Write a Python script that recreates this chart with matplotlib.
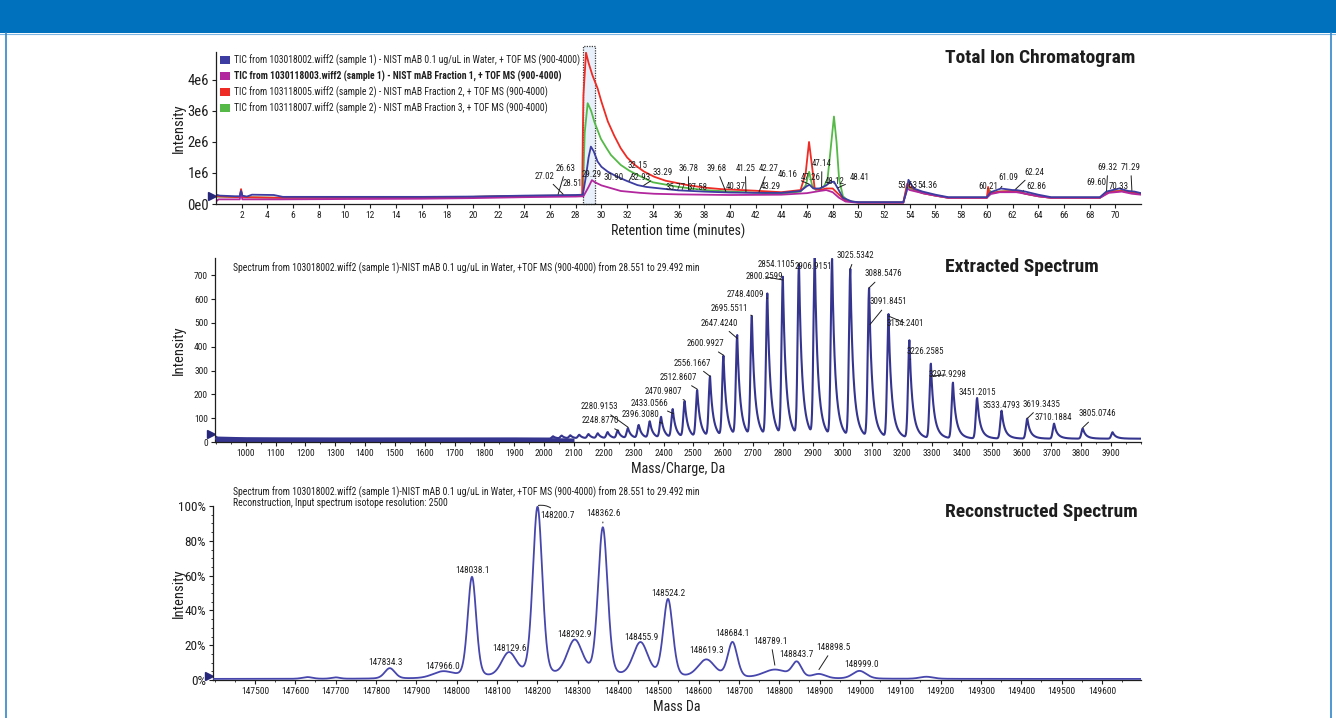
import numpy as np
import matplotlib
matplotlib.use("Agg")
import matplotlib.pyplot as plt
from matplotlib.patches import Rectangle, Patch
from matplotlib.lines import Line2D
from matplotlib.ticker import FixedLocator, MultipleLocator

NARROW = ["Roboto Condensed", "Liberation Sans", "DejaVu Sans"]
plt.rcParams["font.family"] = NARROW

# ---------------- Total ion chromatograms (time in min, intensity in 1e6 counts) ----------------
tic_names = [
    "TIC from 103018002.wiff2 (sample 1) - NIST mAB 0.1 ug/uL in Water, + TOF MS (900-4000)",
    "TIC from 1030118003.wiff2 (sample 1) - NIST mAB Fraction 1, + TOF MS (900-4000)",
    "TIC from 103118005.wiff2 (sample 2) - NIST mAB Fraction 2, + TOF MS (900-4000)",
    "TIC from 103118007.wiff2 (sample 2) - NIST mAB Fraction 3, + TOF MS (900-4000)",
]

blue_t = [0.0, 0.3, 1.5, 1.85, 1.95, 2.05, 2.4, 2.8, 4.5, 5.2, 10.0, 16.0, 20.0, 24.0, 26.0, 28.0,
          28.55, 28.8, 29.0, 29.18, 29.4, 29.7, 30.0, 30.5, 31.0, 31.5, 32.0, 32.8, 33.5, 34.6, 36.0,
          38.0, 40.0, 42.0, 44.0, 45.5, 46.0, 46.2, 46.5, 47.0, 47.5, 47.8, 48.1, 48.4, 48.8, 49.5,
          50.0, 53.5, 53.75, 53.9, 54.3, 55.0, 56.0, 57.0, 60.0, 60.3, 61.1, 62.0, 62.3, 63.0, 64.0,
          65.0, 68.8, 69.3, 70.3, 71.0, 71.5, 72.0]
blue_e6 = [0.30, 0.27, 0.25, 0.25, 0.42, 0.27, 0.24, 0.30, 0.29, 0.23, 0.23, 0.23, 0.24, 0.27, 0.28,
           0.29, 0.30, 0.90, 1.50, 1.85, 1.70, 1.37, 1.20, 1.04, 0.93, 0.83, 0.74, 0.61, 0.55, 0.50,
           0.44, 0.40, 0.37, 0.36, 0.36, 0.42, 0.58, 0.62, 0.50, 0.50, 0.60, 0.70, 0.72, 0.50, 0.20,
           0.08, 0.06, 0.06, 0.40, 0.78, 0.50, 0.40, 0.30, 0.22, 0.22, 0.38, 0.50, 0.45, 0.45, 0.40,
           0.30, 0.22, 0.22, 0.40, 0.50, 0.42, 0.40, 0.35]

magenta_t = [0.0, 0.2, 1.85, 1.95, 2.05, 5.0, 10.0, 16.0, 20.0, 24.0, 28.0, 28.6, 29.0, 29.26, 29.5,
             30.0, 31.5, 33.0, 34.1, 36.0, 40.0, 44.0, 46.0, 47.0, 47.5, 48.0, 48.5, 49.0, 50.0, 53.5,
             53.8, 54.0, 55.0, 56.0, 57.0, 60.0, 60.3, 61.0, 62.3, 63.0, 64.0, 65.0, 68.8, 69.5, 70.5,
             71.3, 72.0]
magenta_e6 = [0.08, 0.15, 0.15, 0.40, 0.15, 0.15, 0.16, 0.17, 0.19, 0.22, 0.24, 0.25, 0.55, 0.77,
              0.70, 0.60, 0.42, 0.36, 0.33, 0.31, 0.29, 0.30, 0.35, 0.42, 0.45, 0.38, 0.20, 0.08,
              0.04, 0.04, 0.50, 0.45, 0.35, 0.27, 0.20, 0.20, 0.32, 0.38, 0.38, 0.33, 0.25, 0.20,
              0.20, 0.36, 0.40, 0.33, 0.30]

red_t = [0.0, 1.85, 1.95, 2.05, 5.0, 10.0, 16.0, 20.0, 24.0, 28.0, 28.5, 28.55, 28.6, 28.8, 29.0,
         29.3, 29.7, 30.0, 30.5, 31.0, 31.5, 32.0, 32.6, 33.3, 34.1, 35.0, 36.7, 38.0, 39.3, 41.9,
         44.0, 45.5, 45.9, 46.16, 46.4, 46.6, 47.0, 47.5, 48.0, 48.5, 49.0, 50.0, 53.5, 53.8, 54.0,
         55.0, 56.0, 57.0, 60.0, 60.1, 60.2, 60.3, 61.0, 62.3, 63.0, 64.0, 65.0, 68.8, 69.5, 70.5, 72.0]
red_e6 = [0.25, 0.22, 0.48, 0.22, 0.20, 0.20, 0.22, 0.23, 0.26, 0.27, 0.30, 2.15, 3.50, 4.88, 4.55,
          4.15, 3.73, 3.30, 2.66, 2.20, 1.80, 1.50, 1.26, 1.05, 0.88, 0.75, 0.61, 0.53, 0.48, 0.43,
          0.38, 0.45, 1.00, 2.00, 1.20, 0.50, 0.45, 0.50, 0.50, 0.30, 0.10, 0.05, 0.05, 0.65, 0.55,
          0.35, 0.27, 0.20, 0.20, 0.55, 0.30, 0.35, 0.40, 0.42, 0.33, 0.25, 0.20, 0.20, 0.40, 0.42, 0.33]

green_t = [0.0, 1.85, 1.95, 2.05, 5.0, 10.0, 16.0, 20.0, 24.0, 28.0, 28.55, 28.7, 28.93, 29.2, 29.45,
           29.96, 30.4, 30.74, 31.5, 32.15, 32.8, 34.0, 36.0, 38.0, 40.0, 44.0, 45.5, 45.9, 46.17,
           46.4, 46.7, 47.0, 47.3, 47.6, 47.8, 48.1, 48.3, 48.5, 48.8, 49.2, 50.0, 53.5, 53.8, 54.0,
           55.0, 56.0, 57.0, 60.0, 60.2, 60.4, 61.0, 62.3, 63.0, 64.0, 65.0, 68.8, 69.5, 70.5, 72.0]
green_e6 = [0.24, 0.22, 0.45, 0.22, 0.20, 0.20, 0.22, 0.23, 0.26, 0.27, 0.30, 2.30, 3.25, 3.00, 2.65,
            2.10, 1.80, 1.58, 1.26, 1.08, 0.94, 0.70, 0.55, 0.45, 0.40, 0.33, 0.40, 0.60, 1.04, 0.60,
            0.45, 0.50, 0.55, 0.80, 1.60, 2.82, 2.00, 0.80, 0.25, 0.10, 0.05, 0.05, 0.60, 0.50, 0.35,
            0.27, 0.20, 0.20, 0.45, 0.35, 0.40, 0.42, 0.33, 0.25, 0.20, 0.20, 0.40, 0.42, 0.33]

tic_rt_labels = [27.02, 26.63, 28.51, 29.29, 30.90, 32.15, 32.93, 33.29, 35.77, 36.78, 37.58, 39.68,
                 40.37, 41.25, 42.27, 43.29, 46.16, 47.26, 47.14, 48.12, 48.41, 53.63, 54.36, 60.21,
                 61.09, 62.24, 62.86, 69.60, 69.32, 70.33, 71.29]
xic_window = (28.551, 29.492)

# ---------------- Extracted spectrum (m/z, counts) ----------------
ms_peak_mz = [2030, 2059, 2088, 2118, 2149, 2180, 2213, 2247, 2281, 2317, 2354, 2392, 2431, 2471,
              2513, 2556, 2601, 2647, 2696, 2748, 2800, 2854, 2907, 2965, 3026, 3089, 3154, 3224,
              3296, 3370, 3451, 3533, 3619, 3709, 3805, 3905]
ms_peak_int = [10, 12, 13, 15, 18, 21, 26, 33, 42, 55, 70, 88, 120, 152, 198, 255, 340, 425, 505,
               600, 668, 722, 752, 745, 705, 625, 518, 410, 313, 234, 170, 117, 84, 63, 43, 27]
ms_baseline = 14
noise_mz = [897, 905, 1000, 1100, 1300, 1500, 1700, 1900, 2000, 2100]
noise_top = [30, 25, 22, 21, 20, 20, 20, 20, 19, 17]
ms_mz_labels = [2280.9153, 2248.8770, 2396.3080, 2433.0566, 2470.9807, 2512.8607, 2556.1667,
                2600.9927, 2647.4240, 2695.5511, 2748.4009, 2800.2599, 2854.1105, 2906.9151,
                3025.5342, 3088.5476, 3091.8451, 3154.2401, 3226.2585, 3297.9298, 3451.2015,
                3533.4793, 3619.3435, 3710.1884, 3805.0746]

# ---------------- Reconstructed (deconvoluted) spectrum (Da, % of base peak) ----------------
rec_mass = [147630, 147700, 147834.3, 147966.0, 148038.1, 148129.6, 148200.7, 148292.9, 148362.6,
            148455.9, 148524.2, 148619.3, 148684.1, 148789.1, 148843.7, 148898.5, 148999.0, 149165]
rec_pct = [1.0, 0.8, 6.0, 3.8, 58.0, 14.0, 98.0, 21.0, 86.0, 20.0, 45.0, 10.5, 20.5, 5.0, 8.8, 2.5,
           4.5, 1.2]
rec_fwhm = [30, 25, 30, 60, 25, 44, 28, 46, 28, 44, 28, 50, 28, 70, 28, 40, 40, 40]
rec_baseline = 0.6
rec_labels = [147834.3, 147966.0, 148038.1, 148129.6, 148200.7, 148292.9, 148362.6, 148455.9,
              148524.2, 148619.3, 148684.1, 148789.1, 148843.7, 148898.5, 148999.0]

# ---------------- layout: label text anchors (data coordinates) ----------------
tic_label_xy = [(25.6, 0.90), (27.24, 1.16), (27.75, 0.65), (29.26, 0.94), (30.93, 0.87),
                (32.8, 1.23), (33.03, 0.87), (34.79, 1.00), (35.8, 0.52), (36.77, 1.16),
                (37.47, 0.52), (38.95, 1.16), (40.47, 0.55), (41.2, 1.16), (43.0, 1.16),
                (43.15, 0.55), (44.47, 0.94), (46.3, 0.84), (47.16, 1.32), (48.13, 0.71),
                (50.08, 0.84), (53.81, 0.61), (55.37, 0.61), (60.1, 0.55), (61.7, 0.84),
                (63.66, 1.03), (63.85, 0.58), (68.52, 0.68), (69.42, 1.19), (70.3, 0.58),
                (71.2, 1.19)]
tic_leader = [1, 1, 0, 0, 0, 1, 0, 1, 0, 1, 0, 1, 0, 1, 1, 0, 1, 0, 1, 0, 1, 0, 1, 0, 1, 1, 1, 0,
              1, 0, 1]
ms_label_xy = [(2185, 148), (2188, 89), (2322, 116), (2353, 163), (2400, 211), (2450, 270),
               (2498, 331), (2542, 412), (2588, 499), (2620, 562), (2674, 618), (2737, 695),
               (2778, 744), (2903, 739), (3042, 782), (3137, 706), (3154, 589), (3210, 499),
               (3277, 379), (3350, 282), (3450, 207), (3534, 155), (3668, 158), (3707, 102),
               (3853, 118)]
ms_leader = [1, 1, 1, 1, 1, 1, 1, 1, 1, 1, 1, 1, 1, 0, 1, 1, 1, 1, 1, 1, 0, 0, 1, 0, 1]
rec_label_xy = [(147824, 10.0), (147965, 8.0), (148040, 63.2), (148130, 18.2), (148250, 94.3),
                (148293, 26.4), (148364, 95.8), (148457, 24.3), (148525, 49.8), (148620, 16.7),
                (148683, 26.8), (148779, 22.4), (148843, 14.9), (148934, 18.8), (149003, 9.0)]
rec_leader = [0, 0, 0, 0, 2, 0, 1, 0, 0, 0, 0, 1, 0, 1, 0]

# ---------------- figure ----------------
W, H = 1336, 718
fig = plt.figure(figsize=(W / 100, H / 100), dpi=100)


def fx(px):
    return px / W


def fy(py):
    return 1 - py / H


def axes_box(left, right, top, bottom):
    return [fx(left), fy(bottom), (right - left) / W, (bottom - top) / H]


fig.patches.append(Rectangle((0, fy(33)), 1, 33 / H, transform=fig.transFigure,
                             facecolor="#0071bc", edgecolor="none", zorder=0))
fig.add_artist(Line2D([0, 1], [fy(33.5), fy(33.5)], color="#7fb6e2", lw=0.8))
fig.add_artist(Line2D([fx(5.5), fx(5.5)], [0, fy(33)], color="#2f86cc", lw=1.2))
fig.add_artist(Line2D([fx(1331), fx(1331)], [0, fy(33)], color="#2f86cc", lw=1.2))

INK = "#1e1e1e"
TRACE = "#35358f"
NUM = 6.4      # peak-label size
TICK = 6.8     # small tick-label size
TITLE = 14
NOTE = 6.9     # legend / header-note size


def style_axes(ax, left_px, right_px):
    for s in ("top", "right"):
        ax.spines[s].set_visible(False)
    for s in ("left", "bottom"):
        ax.spines[s].set_color(INK)
        ax.spines[s].set_linewidth(0.9)
    ax.patch.set_alpha(0)
    ax.tick_params(which="major", direction="out", length=3, width=0.8, colors=INK, pad=2)
    ax.tick_params(which="minor", direction="out", length=1.6, width=0.6, colors=INK)
    ax.yaxis.set_label_coords((186 - left_px) / (right_px - left_px), 0.5)


def baseline_arrow(ax, y):
    ax.plot([-0.004], [y], marker=">", ms=5.5, color="#26267a",
            transform=ax.get_yaxis_transform(), clip_on=False)


def leader(ax, text, xy, xytext, draw, size, rad=0.0):
    kw = dict(fontsize=size, color=INK, ha="center", va="center", annotation_clip=False)
    if draw:
        kw["arrowprops"] = dict(arrowstyle="-", color=INK, lw=0.7, shrinkA=1, shrinkB=0,
                                connectionstyle=f"arc3,rad={rad}")
    ax.annotate(text, xy=xy, xytext=xytext, textcoords="data", **kw)


# ---------- panel 1: total ion chromatogram ----------
ax1 = fig.add_axes(axes_box(216, 1141, 52, 204))
style_axes(ax1, 216, 1141)
ax1.set_xlim(0, 72)
ax1.set_ylim(0, 4.9e6)
ax1.add_patch(Rectangle((xic_window[0], 0), xic_window[1] - xic_window[0], 5.1e6,
                        facecolor="#e8f1fb", edgecolor="#3a3a3a", lw=0.9,
                        linestyle=(0, (1, 1)), clip_on=False, zorder=0.5))

series = [(green_t, green_e6, "#55b947"), (red_t, red_e6, "#ee2b24"),
          (magenta_t, magenta_e6, "#b3279e"), (blue_t, blue_e6, "#3c3ca2")]
for t, v, c in series:
    ax1.plot(t, np.array(v) * 1e6, color=c, lw=1.3, zorder=2)

blue_arr = np.array(blue_e6) * 1e6
for rt, (tx, ty), d in zip(tic_rt_labels, tic_label_xy, tic_leader):
    y_pt = np.interp(rt, blue_t, blue_arr) + 0.03e6
    leader(ax1, f"{rt:.2f}", (rt, y_pt), (tx, ty * 1e6), d, NUM)

ax1.xaxis.set_major_locator(FixedLocator(np.arange(2, 72, 2)))
ax1.set_xticklabels([f"{v:d}" for v in range(2, 72, 2)], fontsize=TICK)
ax1.yaxis.set_major_locator(FixedLocator([0, 1e6, 2e6, 3e6, 4e6]))
ax1.set_yticklabels(["0e0", "1e6", "2e6", "3e6", "4e6"], fontsize=10.5)
ax1.set_xlabel("Retention time (minutes)", fontsize=10, labelpad=3, color=INK)
ax1.set_ylabel("Intensity", fontsize=10.5, color=INK)
baseline_arrow(ax1, 0.26e6)

handles = [Patch(facecolor=c, edgecolor="none") for c in ("#3c3ca2", "#b3279e", "#ee2b24", "#55b947")]
leg = ax1.legend(handles, tic_names, loc="upper left", bbox_to_anchor=(fx(220), fy(54)),
                 bbox_transform=fig.transFigure, frameon=False, fontsize=NOTE,
                 handlelength=1.0, handleheight=0.95, handletextpad=0.45, labelspacing=0.5,
                 borderpad=0, borderaxespad=0)
for i, txt in enumerate(leg.get_texts()):
    txt.set_color(INK)
    if i == 1:
        txt.set_fontweight("bold")

fig.text(fx(945), fy(58), "Total Ion Chromatogram", fontsize=TITLE, fontweight="bold",
         ha="left", va="center", color=INK)

# ---------- panel 2: extracted spectrum ----------
ax2 = fig.add_axes(axes_box(215, 1141, 258, 442))
style_axes(ax2, 215, 1141)
ax2.set_xlim(897, 4000)
ax2.set_ylim(0, 773)

mz = np.linspace(897, 4000, 14000)


def ms_profile(x):
    y = np.full_like(x, float(ms_baseline))
    for c, h in zip(ms_peak_mz, ms_peak_int):
        d = x - c
        dp = np.clip(d, 0, None)
        left = np.exp(-0.5 * (d / 4.5) ** 2)
        right = 0.5 * np.exp(-dp / 7.0) + 0.5 * np.exp(-dp / 16.0)
        y += h * np.where(d < 0, left, right)
    return y


ms_y = ms_profile(mz)
ax2.fill_between(noise_mz, 0, noise_top, color=TRACE, lw=0, zorder=2)
ax2.plot(mz, ms_y, color=TRACE, lw=1.5, zorder=3)

for m, (tx, ty), d in zip(ms_mz_labels, ms_label_xy, ms_leader):
    y_pt = np.interp(m, mz, ms_y) + 4
    leader(ax2, f"{m:.4f}", (m, y_pt), (tx, ty), d, NUM)

ax2.xaxis.set_major_locator(FixedLocator(np.arange(1000, 4000, 100)))
ax2.set_xticklabels([f"{v:d}" for v in range(1000, 4000, 100)], fontsize=TICK)
ax2.xaxis.set_minor_locator(MultipleLocator(50))
ax2.yaxis.set_major_locator(FixedLocator(np.arange(0, 800, 100)))
ax2.set_yticklabels([f"{v:d}" for v in range(0, 800, 100)], fontsize=TICK)
ax2.set_xlabel("Mass/Charge, Da", fontsize=10, labelpad=3, color=INK)
ax2.set_ylabel("Intensity", fontsize=10.5, color=INK)
baseline_arrow(ax2, 34)

fig.text(fx(233), fy(268),
         "Spectrum from 103018002.wiff2 (sample 1)-NIST mAB 0.1 ug/uL in Water, +TOF MS (900-4000) "
         "from 28.551 to 29.492 min", fontsize=NOTE, ha="left", va="center", color=INK)
fig.text(fx(945), fy(267), "Extracted Spectrum", fontsize=TITLE, fontweight="bold",
         ha="left", va="center", color=INK)

# ---------- panel 3: reconstructed spectrum ----------
ax3 = fig.add_axes(axes_box(213, 1141, 506, 680))
style_axes(ax3, 213, 1141)
ax3.set_xlim(147396, 149697)
ax3.set_ylim(0, 100)

mass = np.linspace(147396, 149697, 6000)


def rec_profile(x):
    y = np.full_like(x, rec_baseline)
    for c, h, w in zip(rec_mass, rec_pct, rec_fwhm):
        s = w / 2.3548
        y += h * (0.75 * np.exp(-0.5 * ((x - c) / s) ** 2) + 0.25 / (1 + ((x - c) / (w / 2)) ** 2))
    return y


rec_y = rec_profile(mass)
ax3.plot(mass, rec_y, color="#4646ad", lw=1.3, zorder=3)

for m, (tx, ty), d in zip(rec_labels, rec_label_xy, rec_leader):
    y_pt = np.interp(m, mass, rec_y) + (0.8 if d != 1 else 2.5)
    if d == 2:
        leader(ax3, f"{m:.1f}", (m + 2, y_pt), (tx, ty), True, 6.7, rad=0.35)
    else:
        leader(ax3, f"{m:.1f}", (m, y_pt), (tx, ty), bool(d), 6.7)

ax3.xaxis.set_major_locator(FixedLocator(np.arange(147500, 149700, 100)))
ax3.set_xticklabels([f"{v:d}" for v in range(147500, 149700, 100)], fontsize=TICK)
ax3.xaxis.set_minor_locator(MultipleLocator(50))
ax3.yaxis.set_major_locator(FixedLocator(np.arange(0, 101, 20)))
ax3.set_yticklabels([f"{v:d}%" for v in range(0, 101, 20)], fontsize=9.5)
ax3.yaxis.set_minor_locator(MultipleLocator(5))
ax3.set_xlabel("Mass Da", fontsize=10, labelpad=3, color=INK)
ax3.set_ylabel("Intensity", fontsize=10.5, color=INK)
baseline_arrow(ax3, 2.3)

fig.text(fx(233), fy(492),
         "Spectrum from 103018002.wiff2 (sample 1)-NIST mAB 0.1 ug/uL in Water, +TOF MS (900-4000) "
         "from 28.551 to 29.492 min", fontsize=NOTE, ha="left", va="center", color=INK)
fig.text(fx(233), fy(503.5), "Reconstruction, Input spectrum isotope resolution: 2500",
         fontsize=NOTE, ha="left", va="center", color=INK)
fig.text(fx(945), fy(512), "Reconstructed Spectrum", fontsize=TITLE, fontweight="bold",
         ha="left", va="center", color=INK)

fig.savefig("out.png", dpi=100)
